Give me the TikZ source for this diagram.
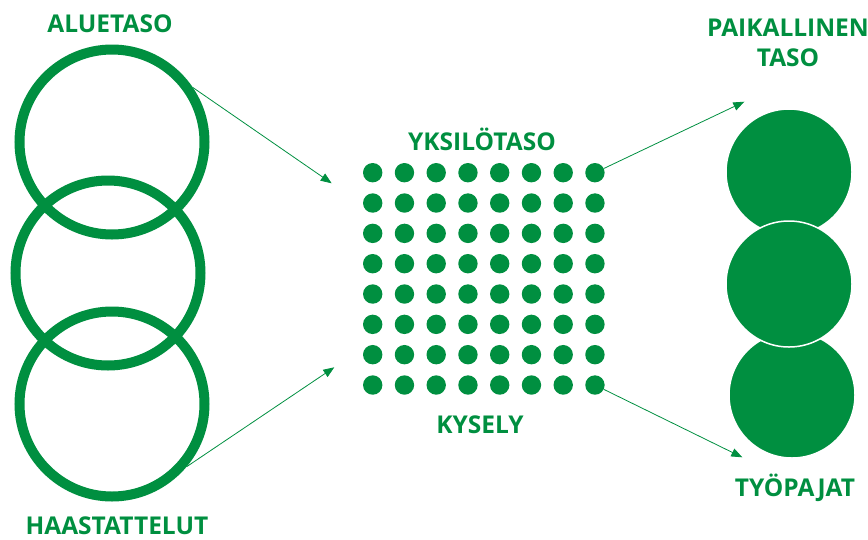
\documentclass[tikz,border=0pt]{standalone}
\usepackage{fontspec}
\setmainfont{Open Sans}
\usetikzlibrary{arrows.meta}
\usetikzlibrary{positioning}
\tikzset{link/.style = {mgreen, line width=0.8pt, -{Triangle[length=11pt, width=8.5pt]}}}
\definecolor{mgreen}{rgb}{0, 0.56, 0.25}
\tikzset{ring/.style = {circle, draw=mgreen, line width=10pt, minimum size=185pt, inner sep=0pt}}
\tikzset{disc/.style = {circle, fill=mgreen, draw=white, line width=1.5pt, minimum size=126pt, inner sep=0pt}}
\tikzset{dot/.style = {circle, fill=mgreen, minimum size=19.4pt, inner sep=0pt}}
\tikzset{lbl/.style = {text=mgreen, font=\bfseries\fontsize{24.5}{30}\selectfont, anchor=base, align=center, inner sep=0pt}}

\begin{document}
\begin{tikzpicture}[x=1pt, y=-1pt]
      \useasboundingbox (0, 0) rectangle (868, 539);

      % left: three rings
      \node [ring] (alue) at (112, 142) {};
      \node [ring] (mid) at (108, 273) {};
      \node [ring] (haast) at (112, 404) {};
      \node [lbl] (alueL) at (110, 32) {ALUETASO};
      \node [lbl] (haastL) at (117, 534) {HAASTATTELUT};

      % middle: grid of dots
      \foreach \i in {1,...,8}
        \foreach \j in {1,...,8}
          \node [dot] (d\i\j) at ({372.7 + (\i-1)*31.75}, {172.7 + (\j-1)*30.33}) {};
      \node [lbl] (yksL) at (482, 150) {YKSILÖTASO};
      \node [lbl] (kysL) at (480, 433) {KYSELY};

      % right: three discs, middle one on top
      \node [disc] (paik) at (789, 172) {};
      \node [disc] (tyo) at (792, 395) {};
      \node [disc] (keski) at (789, 284) {};
      \node [lbl] (paikL) at (788, 66) {PAIKALLINEN\\TASO};
      \node [lbl] (tyoL) at (795, 496) {TYÖPAJAT};

      \coordinate (t1) at (331.7, 183.3);
      \coordinate (t2) at (334.3, 367.3);
      \coordinate (t3) at (744.3, 101.7);
      \coordinate (t4) at (742.3, 457.3);

      \draw [link] (alue.34) -- (t1);
      \draw [link] (haast.-40) -- (t2);
      \draw [link] (d81) -- (t3);
      \draw [link] (d88) -- (t4);
    \end{tikzpicture}
\end{document}
